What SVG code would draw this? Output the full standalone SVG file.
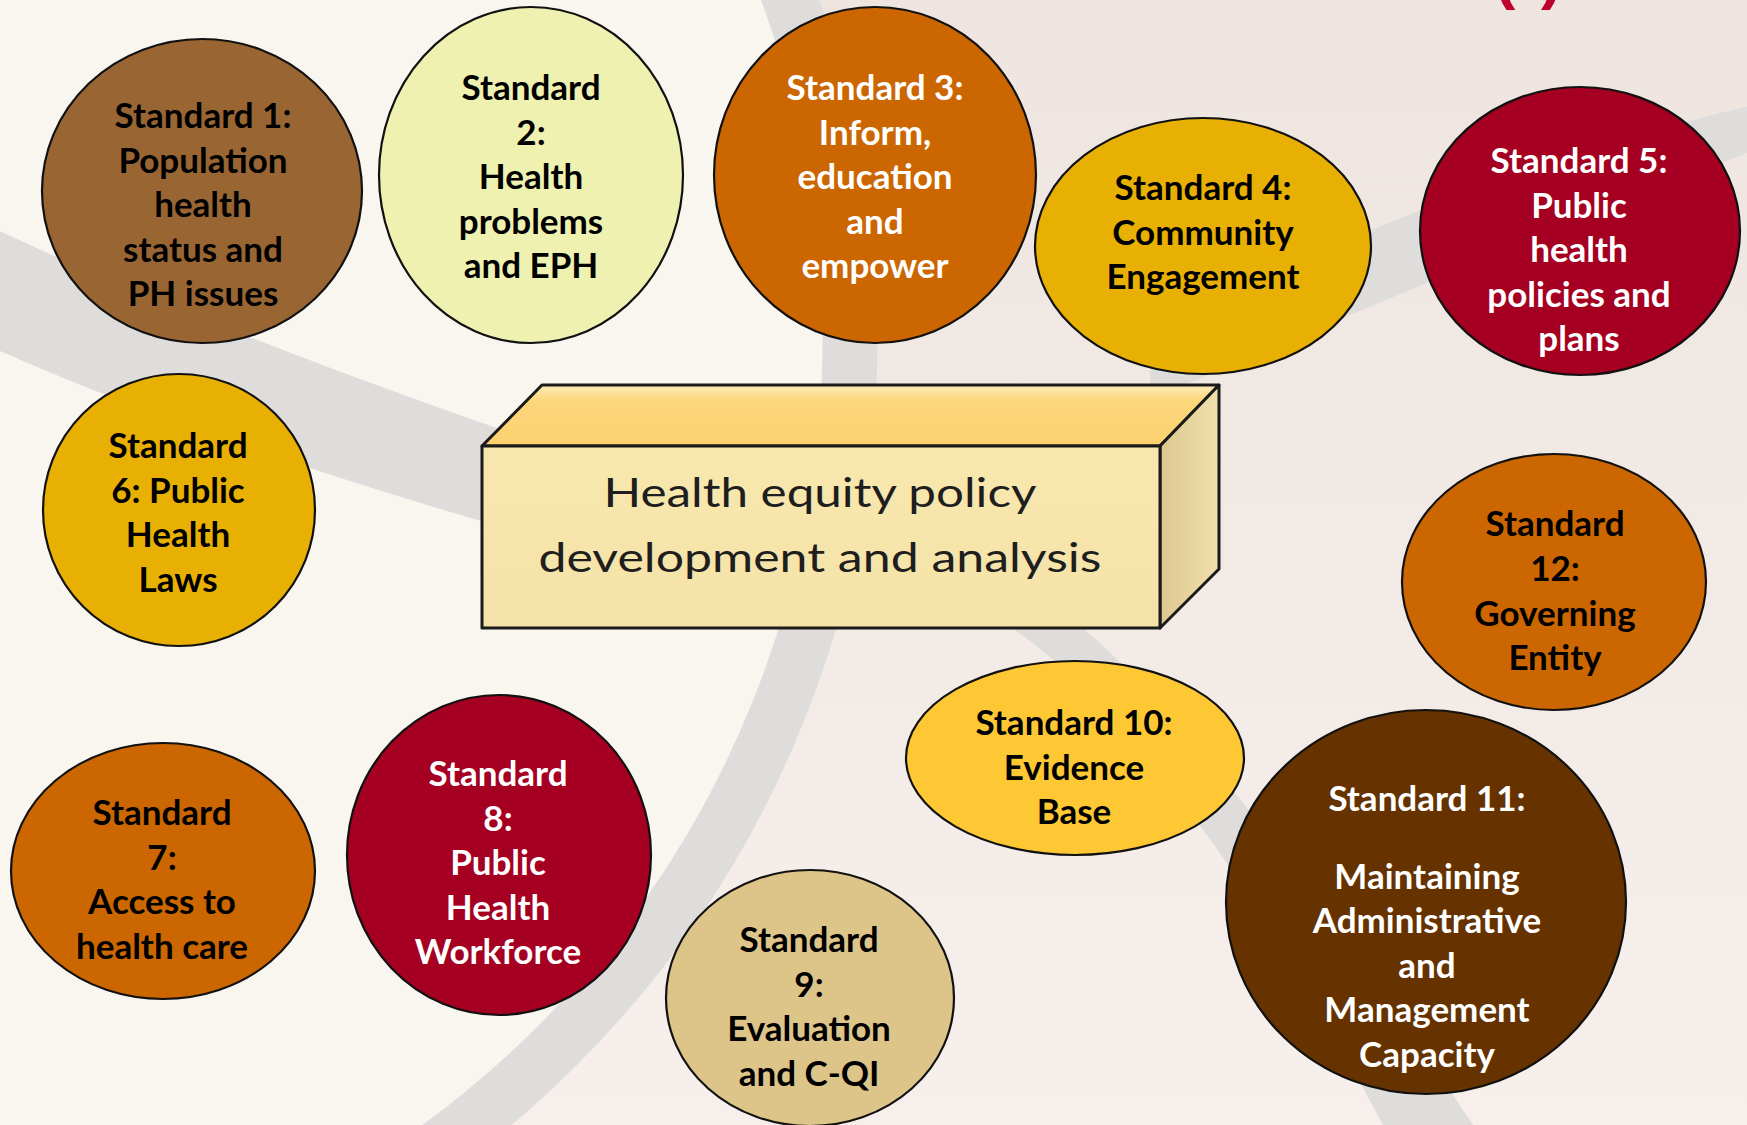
<svg xmlns="http://www.w3.org/2000/svg" width="1747" height="1125" viewBox="0 0 1747 1125">
  <defs>
    <style>
      .node { stroke: #111; stroke-width: 2.2; }
      .lbl { font-family: "Lato", "Liberation Sans", sans-serif; font-weight: 700; font-size: 35px; text-anchor: middle; }
      .dark { fill: #000; }
      .light { fill: #fff; }
      .band { fill: #dfdddb; }
      .box-edge { stroke: #1b1b1b; stroke-width: 3; stroke-linejoin: round; }
      .box-text { font-family: "Lato", "Liberation Sans", sans-serif; font-weight: 400; font-size: 40px; fill: #1e1e1e; text-anchor: middle; }
    </style>
    <linearGradient id="rose" x1="0" y1="0" x2="0" y2="1">
      <stop offset="0" stop-color="#eee5e0"/>
      <stop offset="1" stop-color="#f6efeb"/>
    </linearGradient>
    <linearGradient id="boxTop" x1="0" y1="0" x2="0" y2="1">
      <stop offset="0" stop-color="#fdebb6"/>
      <stop offset="0.25" stop-color="#fdd77c"/>
      <stop offset="1" stop-color="#fcd06f"/>
    </linearGradient>
    <linearGradient id="boxFront" x1="0" y1="0" x2="0" y2="1">
      <stop offset="0" stop-color="#f9e8ae"/>
      <stop offset="1" stop-color="#f4e2a8"/>
    </linearGradient>
    <linearGradient id="boxSide" x1="0" y1="0" x2="1" y2="0">
      <stop offset="0" stop-color="#dcc791"/>
      <stop offset="1" stop-color="#f2e0ac"/>
    </linearGradient>
  </defs>

  <!-- backdrop: rose field, cream disc and soft grey sweeps -->
  <g id="background">
    <rect x="0" y="0" width="1747" height="1125" fill="url(#rose)"/>
    <circle cx="-147" cy="340" r="997" fill="#f9f6ef"/>
    <circle cx="-147" cy="340" r="997" fill="none" stroke="#dfdddb" stroke-width="55"/>
    <path class="band" d="M -20,222 Q 230,340 620,470 L 620,560 Q 230,455 -20,342 Z"/>
    <path class="band" d="M 1000,600 L 1015,630 Q 1181,746 1383,1125 L 1393,1145 L 1485,1145 L 1473,1125 Q 1221,746 1085,630 L 1070,600 Z"/>
    <path class="band" d="M 1760,104 Q 1500,160 1150,330 L 1150,400 Q 1500,250 1760,148 Z"/>
    <text x="1494" y="-3" font-family="Liberation Sans, sans-serif" font-weight="700" font-size="64" fill="#c0002c" letter-spacing="4">( )</text>
  </g>

  <!-- central block -->
  <g id="core">
    <polygon class="box-edge" points="482,446 542,385 1219,385 1160,446" fill="url(#boxTop)"/>
    <polygon class="box-edge" points="1160,446 1219,385 1219,569 1160,628" fill="url(#boxSide)"/>
    <rect class="box-edge" x="482" y="446" width="678" height="182" fill="url(#boxFront)"/>
    <text class="box-text" x="820" y="507" textLength="433" lengthAdjust="spacingAndGlyphs">Health equity policy</text>
    <text class="box-text" x="820" y="572" textLength="563" lengthAdjust="spacingAndGlyphs">development and analysis</text>
  </g>

  <g id="standard-1">
    <ellipse class="node" cx="202" cy="191" rx="160" ry="152" fill="#996633"/>
    <text class="lbl dark"><tspan x="203" y="128">Standard 1:</tspan><tspan x="203" y="172.5">Population</tspan><tspan x="203" y="217">health</tspan><tspan x="203" y="261.5">status and</tspan><tspan x="203" y="306">PH issues</tspan></text>
  </g>

  <g id="standard-2">
    <ellipse class="node" cx="531" cy="175" rx="152" ry="168" fill="#eef1b0"/>
    <text class="lbl dark"><tspan x="531" y="100">Standard</tspan><tspan x="531" y="144.5">2:</tspan><tspan x="531" y="189">Health</tspan><tspan x="531" y="233.5">problems</tspan><tspan x="531" y="278">and EPH</tspan></text>
  </g>

  <g id="standard-3">
    <ellipse class="node" cx="875" cy="175" rx="161" ry="168" fill="#cc6600"/>
    <text class="lbl light"><tspan x="875" y="100">Standard 3:</tspan><tspan x="875" y="144.5">Inform,</tspan><tspan x="875" y="189">education</tspan><tspan x="875" y="233.5">and</tspan><tspan x="875" y="278">empower</tspan></text>
  </g>

  <g id="standard-4">
    <ellipse class="node" cx="1203" cy="246" rx="168" ry="128" fill="#e9b004"/>
    <text class="lbl dark"><tspan x="1203" y="200">Standard 4:</tspan><tspan x="1203" y="244.5">Community</tspan><tspan x="1203" y="289">Engagement</tspan></text>
  </g>

  <g id="standard-5">
    <ellipse class="node" cx="1580" cy="231" rx="160" ry="144" fill="#a50021"/>
    <text class="lbl light"><tspan x="1579" y="173">Standard 5:</tspan><tspan x="1579" y="217.5">Public</tspan><tspan x="1579" y="262">health</tspan><tspan x="1579" y="306.5">policies and</tspan><tspan x="1579" y="351">plans</tspan></text>
  </g>

  <g id="standard-6">
    <ellipse class="node" cx="179" cy="510" rx="136" ry="136" fill="#e9b004"/>
    <text class="lbl dark"><tspan x="178" y="458">Standard</tspan><tspan x="178" y="502.5">6: Public</tspan><tspan x="178" y="547">Health</tspan><tspan x="178" y="591.5">Laws</tspan></text>
  </g>

  <g id="standard-7">
    <ellipse class="node" cx="163" cy="871" rx="152" ry="128" fill="#cc6600"/>
    <text class="lbl dark"><tspan x="162" y="825">Standard</tspan><tspan x="162" y="869.5">7:</tspan><tspan x="162" y="914">Access to</tspan><tspan x="162" y="958.5">health care</tspan></text>
  </g>

  <g id="standard-8">
    <ellipse class="node" cx="499" cy="855" rx="152" ry="160" fill="#a50021"/>
    <text class="lbl light"><tspan x="498" y="786">Standard</tspan><tspan x="498" y="830.5">8:</tspan><tspan x="498" y="875">Public</tspan><tspan x="498" y="919.5">Health</tspan><tspan x="498" y="964">Workforce</tspan></text>
  </g>

  <g id="standard-9">
    <ellipse class="node" cx="810" cy="998" rx="144" ry="128" fill="#ddc488"/>
    <text class="lbl dark"><tspan x="809" y="952">Standard</tspan><tspan x="809" y="996.5">9:</tspan><tspan x="809" y="1041">Evaluation</tspan><tspan x="809" y="1085.5">and C-QI</tspan></text>
  </g>

  <g id="standard-10">
    <ellipse class="node" cx="1075" cy="758" rx="169" ry="97" fill="#fdc834"/>
    <text class="lbl dark"><tspan x="1074" y="735">Standard 10:</tspan><tspan x="1074" y="779.5">Evidence</tspan><tspan x="1074" y="824">Base</tspan></text>
  </g>

  <g id="standard-11">
    <ellipse class="node" cx="1426" cy="902" rx="200" ry="192" fill="#663300"/>
    <text class="lbl light"><tspan x="1427" y="811">Standard 11:</tspan><tspan x="1427" y="889">Maintaining</tspan><tspan x="1427" y="933">Administrative</tspan><tspan x="1427" y="977.5">and</tspan><tspan x="1427" y="1022">Management</tspan><tspan x="1427" y="1066.5">Capacity</tspan></text>
  </g>

  <g id="standard-12">
    <ellipse class="node" cx="1554" cy="582" rx="152" ry="128" fill="#cc6600"/>
    <text class="lbl dark"><tspan x="1555" y="536">Standard</tspan><tspan x="1555" y="581">12:</tspan><tspan x="1555" y="625.5">Governing</tspan><tspan x="1555" y="670">Entity</tspan></text>
  </g>
</svg>
